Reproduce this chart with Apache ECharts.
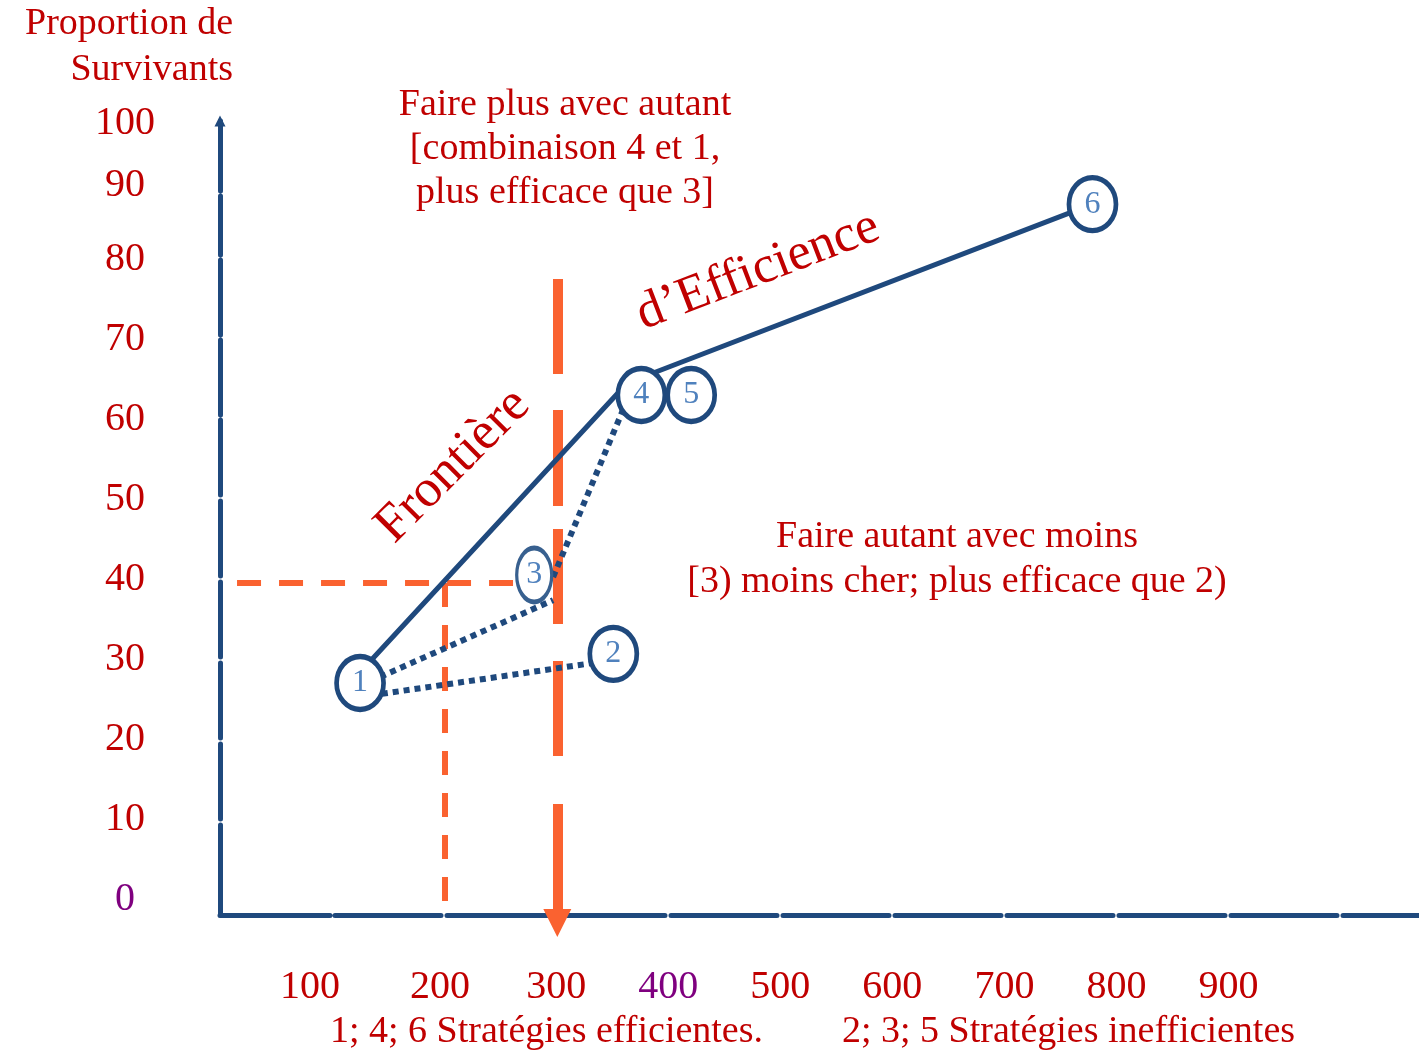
<!DOCTYPE html>
<html>
<head>
<meta charset="utf-8">
<title>Frontière d'Efficience</title>
<script src="https://cdn.jsdelivr.net/npm/echarts@6.0.0/dist/echarts.min.js"></script>
<style>
  html, body { margin: 0; padding: 0; background: #fff; }
  #chart { width: 1419px; height: 1051px; }
</style>
</head>
<body>
<div id="chart"></div>
<script>
// stratégies : coût (x) / proportion de survivants (y)
var strategyNames = ['1', '2', '3', '4', '5', '6'];
var strategyCost = [125, 351, 280.4, 376, 420.5, 778.6];
var strategySurv = [26.75, 30.4, 40.25, 62.75, 62.75, 86.6];

// frontière d'efficience (1 -> 4 -> 6)
var frontierCost = [125, 363.4, 778.6];
var frontierSurv = [28.1, 64.25, 86.6];

// liens pointillés (1-2, 1-3, 3-4)
var dominatedLinks = [
  [[125, 25], [350, 29.6]],
  [[125, 26.4], [297.3, 37.1]],
  [[297.3, 40], [365.2, 62.75]]
];

// repères orange
var budgetLine = [[301, 77.25], [301, -3.25]];
var refSurvLine = [[15.2, 39.25], [263.4, 39.25]];
var refCostLine = [[200.9, 39.25], [200.9, -0.5]];

// graduations
var xTickLabels = ['100', '200', '300', '400', '500', '600', '700', '800', '900'];
var xTickAt = [80.4, 196.4, 300, 400, 500, 600, 700, 800, 900];
var yTickLabels = ['0', '10', '20', '30', '40', '50', '60', '70', '80', '90', '100'];
var yTickAt = [0, 10, 20, 30, 40, 50, 60, 70, 80, 89.25, 97];
var purpleLabels = ['0', '400'];

var RED = '#c00000';
var PURPLE = '#7f007f';
var NAVY = '#1f497d';
var ORANGE = '#fa6230';
var NUM = '#4f81bd';
var FONT = '"Liberation Serif", "Times New Roman", serif';

var circlePath = 'path://M1,0C1,0.552,0.552,1,0,1C-0.552,1,-1,0.552,-1,0C-1,-0.552,-0.552,-1,0,-1C0.552,-1,1,-0.552,1,0Z';

function tickFormatter(labels, at) {
  return function (v) {
    var best = 0;
    for (var i = 1; i < at.length; i++) {
      if (Math.abs(at[i] - v) < Math.abs(at[best] - v)) best = i;
    }
    var t = labels[best];
    return purpleLabels.indexOf(t) >= 0 ? '{p|' + t + '}' : '{r|' + t + '}';
  };
}

var tickRich = {
  r: { color: RED, fontSize: 40, fontFamily: FONT, padding: [4, 0, 0, 0] },
  p: { color: PURPLE, fontSize: 40, fontFamily: FONT, padding: [4, 0, 0, 0] }
};

var chart = echarts.init(document.getElementById('chart'));

var option = {
  animation: false,
  backgroundColor: '#fff',
  grid: { left: 220, right: 0, top: 121, bottom: 136 },
  xAxis: {
    type: 'value',
    min: 0,
    max: 1070,
    axisLine: {
      onZero: false,
      lineStyle: { color: NAVY, width: 5, type: [110, 5, 106, 6, 106, 6, 106, 6, 106, 6, 106, 6, 106, 6, 106, 6, 106, 6, 106, 6, 200] }
    },
    axisTick: { show: false },
    splitLine: { show: false },
    axisLabel: {
      customValues: xTickAt,
      margin: 70,
      verticalAlign: 'middle',
      formatter: tickFormatter(xTickLabels, xTickAt),
      rich: tickRich
    }
  },
  yAxis: {
    type: 'value',
    min: -2.25,
    max: 97,
    axisLine: {
      onZero: false,
      symbol: ['none', 'triangle'],
      symbolSize: [11, 11],
      lineStyle: { color: NAVY, width: 5, type: [90, 6, 75, 6, 75, 6, 75, 6, 75, 6, 75, 5, 75, 5, 75, 5, 59, 5, 100] }
    },
    axisTick: { show: false },
    splitLine: { show: false },
    axisLabel: {
      customValues: yTickAt,
      margin: 95,
      align: 'center',
      formatter: tickFormatter(yTickLabels, yTickAt),
      rich: tickRich
    }
  },
  series: [
    {
      // seuil de coût (300) avec flèche
      type: 'lines',
      coordinateSystem: 'cartesian2d',
      clip: false,
      z: 1,
      symbol: ['none', 'triangle'],
      symbolSize: [28, 28],
      lineStyle: { color: ORANGE, width: 10, opacity: 1, type: [95, 36, 96, 23, 95, 37, 95, 48, 200] },
      data: [{ coords: budgetLine }]
    },
    {
      type: 'lines',
      coordinateSystem: 'cartesian2d',
      clip: false,
      z: 1,
      lineStyle: { color: ORANGE, width: 6, opacity: 1, type: [24, 18] },
      data: [{ coords: refSurvLine }, { coords: refCostLine }]
    },
    {
      type: 'lines',
      coordinateSystem: 'cartesian2d',
      clip: false,
      z: 2,
      lineStyle: { color: NAVY, width: 6, opacity: 1, type: [6, 5] },
      data: dominatedLinks.map(function (c) { return { coords: c }; })
    },
    {
      type: 'line',
      z: 3,
      symbol: 'none',
      clip: false,
      lineStyle: { color: NAVY, width: 5 },
      data: frontierCost.map(function (c, i) { return [c, frontierSurv[i]]; })
    },
    {
      type: 'scatter',
      z: 5,
      symbol: circlePath,
      symbolSize: [47, 53],
      itemStyle: { color: '#fff', borderColor: NAVY, borderWidth: 5, opacity: 1 },
      label: {
        show: true,
        position: 'inside',
        color: NUM,
        fontSize: 32,
        fontFamily: FONT,
        formatter: function (p) { return p.name; }
      },
      data: strategyCost.map(function (c, i) {
        var item = { name: strategyNames[i], value: [c, strategySurv[i]] };
        if (strategyNames[i] === '3') {
          item.symbolSize = [35, 54];
          item.itemStyle = { borderColor: '#38608f', borderWidth: 4 };
        }
        return item;
      })
    }
  ],
  graphic: [
    {
      type: 'text', x: 233, y: 47,
      style: { text: 'Proportion de\nSurvivants', fill: RED, fontSize: 38, fontFamily: FONT, align: 'right', verticalAlign: 'middle', lineHeight: 46 }
    },
    {
      type: 'text', x: 565, y: 149,
      style: { text: 'Faire plus avec autant\n[combinaison 4 et 1,\nplus efficace que 3]', fill: RED, fontSize: 38, fontFamily: FONT, align: 'center', verticalAlign: 'middle', lineHeight: 44 }
    },
    {
      type: 'text', x: 957, y: 560,
      style: { text: 'Faire autant avec moins\n[3) moins cher; plus efficace que 2)', fill: RED, fontSize: 38, fontFamily: FONT, align: 'center', verticalAlign: 'middle', lineHeight: 45 }
    },
    {
      type: 'text', x: 453, y: 466, rotation: 45 * Math.PI / 180,
      style: { text: 'Frontière', fill: RED, fontSize: 53, fontFamily: FONT, align: 'center', verticalAlign: 'middle' }
    },
    {
      type: 'text', x: 758, y: 271, rotation: 21 * Math.PI / 180,
      style: { text: 'd\u2019Efficience', fill: RED, fontSize: 52, fontFamily: FONT, align: 'center', verticalAlign: 'middle' }
    },
    {
      type: 'text', x: 330, y: 1032,
      style: { text: '1; 4; 6 Stratégies efficientes.', fill: RED, fontSize: 38, fontFamily: FONT, align: 'left', verticalAlign: 'middle' }
    },
    {
      type: 'text', x: 842, y: 1032,
      style: { text: '2; 3; 5 Stratégies inefficientes', fill: RED, fontSize: 38, fontFamily: FONT, align: 'left', verticalAlign: 'middle' }
    }
  ]
};

chart.setOption(option);
</script>
</body>
</html>
